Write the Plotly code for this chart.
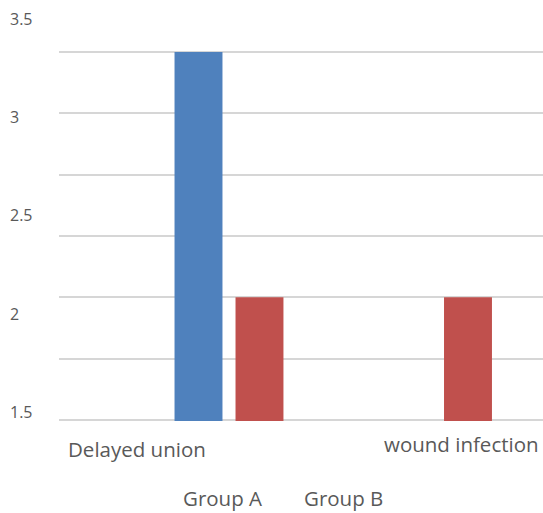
import plotly.graph_objects as go

categories = ["Delayed union", "wound infection"]
group_a = [3, None]
group_b = [2, 2]
series_names = ["Group A", "Group B"]
tick_vals = [1.5, 2, 2.5, 3, 3.5]
tick_text = ["1.5", "2", "2.5", "3", "3.5"]

BLUE = "#4f81bd"
RED = "#c0504d"
TXT = "#595959"
FONT = "Open Sans"

W, H = 543, 513
L = 6
PW = W - L

fig = go.Figure()
fig.add_trace(go.Bar(x=categories, y=group_a, name=series_names[0],
                     marker=dict(color=BLUE, line=dict(width=0)), showlegend=False))
fig.add_trace(go.Bar(x=categories, y=group_b, name=series_names[1],
                     marker=dict(color=RED, line=dict(width=0)), showlegend=False))
# invisible trace carrying the label axis
fig.add_trace(go.Scatter(x=[categories[0]], y=[None], yaxis="y2",
                         showlegend=False, hoverinfo="skip"))


def px_x(p):
    return (p - L) / PW


def px_y(p):
    return (H - p) / H


fig.update_layout(
    width=W, height=H,
    margin=dict(l=L, r=0, t=0, b=0, pad=0),
    paper_bgcolor="white", plot_bgcolor="rgba(0,0,0,0)",
    barmode="group", bargap=0.415, bargroupgap=0.214,
    font=dict(family=FONT, color=TXT),
    xaxis=dict(domain=[px_x(59), 1], type="category",
               range=[-0.8153, 1.506], showticklabels=False,
               showgrid=False, zeroline=False, showline=False, ticks=""),
    yaxis=dict(domain=[px_y(421), px_y(18)],
               range=[1.4959, 3.1386], tick0=1.5, dtick=0.25,
               showgrid=True, gridcolor="#d6d6d6", gridwidth=1.5,
               showticklabels=False, zeroline=False, showline=False, ticks=""),
    yaxis2=dict(domain=[0, 1], anchor="free", position=0, side="left",
                range=[0.9892, 3.5966], tickmode="array",
                tickvals=tick_vals, ticktext=tick_text,
                ticklabelposition="inside", showgrid=False, zeroline=False,
                showline=False, ticks="",
                tickfont=dict(family=FONT, size=16, color=TXT)),
)

cat_font = dict(family=FONT, size=20.5, color=TXT)
fig.add_annotation(text=categories[0], x=px_x(66), y=px_y(449), xref="paper", yref="paper",
                   xanchor="left", yanchor="middle", showarrow=False, font=cat_font)
fig.add_annotation(text=categories[1], x=px_x(541), y=px_y(444), xref="paper", yref="paper",
                   xanchor="right", yanchor="middle", showarrow=False, font=cat_font)
fig.add_annotation(text=series_names[0], x=px_x(222.5), y=px_y(498), xref="paper", yref="paper",
                   xanchor="center", yanchor="middle", showarrow=False, font=cat_font)
fig.add_annotation(text=series_names[1], x=px_x(343), y=px_y(498), xref="paper", yref="paper",
                   xanchor="center", yanchor="middle", showarrow=False, font=cat_font)

fig.write_html(
    "out.html",
    config={"displayModeBar": False},
    post_script="document.body.style.margin='0';document.body.style.overflow='hidden';",
)
